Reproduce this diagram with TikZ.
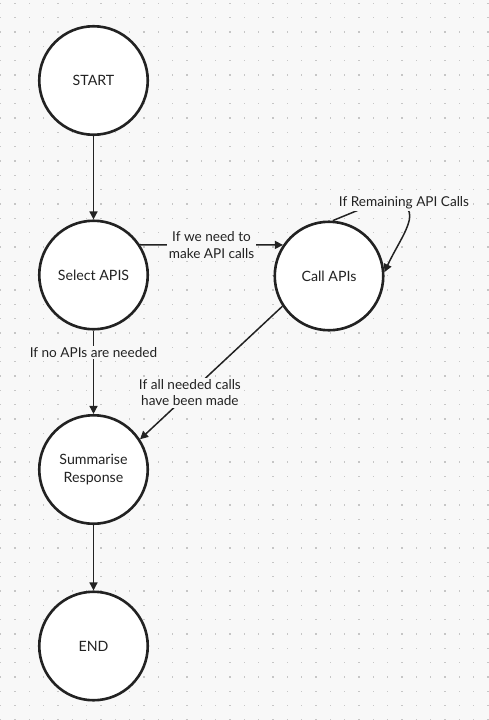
\documentclass[tikz,border=0pt]{standalone}
\usepackage{fontspec}
\setmainfont{Lato}
\usetikzlibrary{arrows.meta}
\definecolor{bg}{HTML}{F8F8F8}
\definecolor{dotc}{HTML}{C6C6C6}
\definecolor{ink}{HTML}{222222}
\begin{document}
\begin{tikzpicture}[x=1pt,y=-1pt,
  state/.style={circle, draw=ink, line width=2.6pt, fill=white, minimum size=108.5pt,
    inner sep=0pt, align=center, text=ink, font=\fontsize{14.2}{18}\selectfont},
  flow/.style={draw=ink, line width=1.5pt, -{Triangle[length=8pt,width=8pt]}},
  lbl/.style={fill=bg, inner sep=1.5pt, align=center, text=ink, font=\fontsize{13.6}{16.5}\selectfont}]
\useasboundingbox (0,0) rectangle (489,720);
\fill[bg] (0,0) rectangle (489,720);
\foreach \i in {0,...,34}{
  \foreach \j in {0,...,50}{
    \fill[dotc] (0.7+\i*14.333-0.7, 3.3+\j*14.333-0.7) rectangle ++(1.4,1.4);
  }
}
\node[state] (start) at (93.5,80.5) {START};
\node[state] (sel) at (93.5,275) {Select APIS};
\node[state] (call) at (329,276) {Call APIs};
\node[state] (sum) at (93.5,469.5) {Summarise\\Response};
\node[state] (end) at (93.5,646) {END};

\draw[flow] (start) -- (sel);
\draw[flow] (sel.33) -- node[lbl, midway] {If we need to\\make API calls} (call.146);
\draw[flow] (sel) -- node[lbl, pos=0.26] {If no APIs are needed} (sum);
\draw[flow] (call.213) -- node[lbl, pos=0.65] {If all needed calls\\have been made} (sum.33);
\draw[flow] (sum) -- (end);

\coordinate (hid) at (378,202);
\draw[flow] (call.86) -- (hid) .. controls (433,200) and (403,232) .. (call.4);
\node[lbl] (rem) at (404,203) {If Remaining API Calls};
\end{tikzpicture}
\end{document}
